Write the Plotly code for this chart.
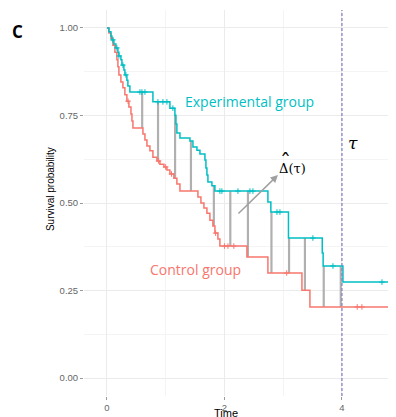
import numpy as np
import plotly.graph_objects as go

# ---- data ----
ctrl_time = [0, 0.034, 0.068, 0.102, 0.136, 0.170, 0.187, 0.204, 0.238, 0.272, 0.306, 0.340,
             0.374, 0.409, 0.426, 0.443, 0.613, 0.647, 0.681, 0.732, 0.783, 0.851, 0.902,
             0.970, 1.021, 1.072, 1.140, 1.191, 1.243, 1.549, 1.600, 1.651, 1.702, 1.753,
             1.804, 1.838, 1.889, 1.923, 2.383, 2.740, 3.319, 3.455, 4.92]
ctrl_surv = [1.0, 0.986, 0.971, 0.951, 0.931, 0.909, 0.889, 0.866, 0.846, 0.829, 0.809, 0.791,
             0.774, 0.754, 0.734, 0.714, 0.697, 0.680, 0.663, 0.649, 0.631, 0.620, 0.611,
             0.603, 0.594, 0.583, 0.571, 0.554, 0.534, 0.517, 0.500, 0.486, 0.471, 0.451,
             0.434, 0.414, 0.397, 0.377, 0.346, 0.300, 0.251, 0.203, 0.203]

exp_time = [0, 0.034, 0.068, 0.085, 0.119, 0.153, 0.187, 0.204, 0.238, 0.255, 0.289, 0.306,
            0.340, 0.357, 0.391, 0.783, 1.072, 1.157, 1.174, 1.191, 1.243, 1.413, 1.464,
            1.532, 1.583, 1.668, 1.685, 1.702, 1.719, 1.787, 1.838, 2.740, 2.790, 3.090,
            3.665, 3.680, 4.017, 4.92]
exp_surv = [1.0, 0.989, 0.977, 0.966, 0.954, 0.943, 0.931, 0.920, 0.909, 0.894, 0.880, 0.866,
            0.851, 0.834, 0.817, 0.789, 0.771, 0.751, 0.726, 0.700, 0.686, 0.677, 0.660,
            0.651, 0.640, 0.623, 0.600, 0.580, 0.560, 0.549, 0.534, 0.503, 0.474, 0.400,
            0.357, 0.320, 0.274, 0.274]

exp_censor = [0.102, 0.170, 0.204, 0.272, 0.323, 0.562, 0.596, 0.647, 0.868, 0.953, 1.021,
              1.123, 1.923, 1.957, 2.230, 2.434, 2.485, 2.894, 2.945, 3.506, 3.847, 4.681, 4.868]
ctrl_censor = [0.36, 0.88, 1.0, 1.1, 1.85, 2.0, 2.06, 2.16, 3.06, 4.26, 4.34]

diff_times = [0.60, 0.87, 1.16, 1.43, 1.82, 2.10, 2.40, 2.80, 3.10, 3.37, 3.69, 3.98]
tau = 4

x_ticks = [0, 2, 4]
y_ticks = [0.0, 0.25, 0.5, 0.75, 1.0]
y_tick_text = ["0.00", "0.25", "0.50", "0.75", "1.00"]

TEAL = "#00BFC4"
RED = "#F8766D"


def step_at(times, surv, t):
    idx = np.searchsorted(np.asarray(times), t, side="right") - 1
    return np.asarray(surv)[idx]


fig = go.Figure()

# difference segments
for t in diff_times:
    fig.add_trace(go.Scatter(
        x=[t, t], y=[step_at(ctrl_time, ctrl_surv, t), step_at(exp_time, exp_surv, t)],
        mode="lines", line=dict(color="#B0B0B0", width=2.2), showlegend=False, hoverinfo="skip"))

fig.add_trace(go.Scatter(x=ctrl_time, y=ctrl_surv, mode="lines", line_shape="hv",
                         line=dict(color=RED, width=1.5), showlegend=False))
fig.add_trace(go.Scatter(x=exp_time, y=exp_surv, mode="lines", line_shape="hv",
                         line=dict(color=TEAL, width=1.5), showlegend=False))

fig.add_trace(go.Scatter(x=ctrl_censor, y=[step_at(ctrl_time, ctrl_surv, t) for t in ctrl_censor],
                         mode="markers", marker=dict(symbol="cross-thin", size=4,
                                                     line=dict(color=RED, width=1)),
                         showlegend=False))
fig.add_trace(go.Scatter(x=exp_censor, y=[step_at(exp_time, exp_surv, t) for t in exp_censor],
                         mode="markers", marker=dict(symbol="cross-thin", size=4,
                                                     line=dict(color=TEAL, width=1)),
                         showlegend=False))

fig.add_shape(type="line", x0=tau, x1=tau, xref="x", y0=0, y1=1, yref="paper",
              line=dict(color="#8585C8", width=1.3, dash="3px,2px"))

ann = [
    dict(x=2.434, y=0.789, xref="x", yref="y", text="Experimental group", showarrow=False,
         font=dict(family="Open Sans", size=14, color=TEAL)),
    dict(x=1.50, y=0.309, xref="x", yref="y", text="Control group", showarrow=False,
         font=dict(family="Open Sans", size=14, color=RED)),
    dict(x=2.911, y=0.580, ax=2.213, ay=0.466, xref="x", yref="y", axref="x", ayref="y",
         text="", showarrow=True, arrowhead=2, arrowsize=1, arrowwidth=1.5, arrowcolor="#A0A0A0"),
    dict(x=3.166, y=0.600, xref="x", yref="y", text="\u0394(\u03c4)", showarrow=False,
         font=dict(family="DejaVu Serif", size=13, color="black")),
    dict(x=3.035, y=0.617, xref="x", yref="y", text="\u02c6", showarrow=False,
         font=dict(family="DejaVu Serif", size=22, color="black")),
    dict(x=4.19, y=0.672, xref="x", yref="y", text="<i>\u03c4</i>", showarrow=False,
         font=dict(family="DejaVu Serif", size=17, color="black")),
    dict(x=-0.109, y=0.536, xref="paper", yref="paper", text="Survival probability",
         xanchor="center", yanchor="middle",
         textangle=-90, showarrow=False, font=dict(family="Liberation Sans", size=10, color="black")),
    dict(x=0.455, y=-0.044, xref="paper", yref="paper", text="Time", showarrow=False,
         xanchor="center", yanchor="middle",
         font=dict(family="Liberation Sans", size=11, color="black")),
    dict(x=-0.213, y=0.944, xref="paper", yref="paper", text="<b>C</b>", showarrow=False,
         xanchor="center", yanchor="middle",
         font=dict(family="Open Sans", size=17, color="black")),
]

fig.update_layout(
    width=388, height=409,
    margin=dict(l=76, r=0, t=2, b=21),
    paper_bgcolor="white", plot_bgcolor="white",
    annotations=ann,
    showlegend=False,
)
fig.update_xaxes(range=[-0.39, 4.92], tickvals=x_ticks, ticktext=[str(v) for v in x_ticks],
                 showgrid=True, gridcolor="#EBEBEB", gridwidth=1, zeroline=False,
                 ticks="outside", ticklen=3, tickcolor="#9A9A9A",
                 tickfont=dict(family="Liberation Sans", size=9.5, color="#666666"),
                 minor=dict(tickvals=[1, 3], showgrid=True, gridcolor="#F4F4F4", gridwidth=0.6),
                 showline=False)
fig.update_yaxes(range=[-0.0514, 1.0514], tickvals=y_ticks, ticktext=y_tick_text,
                 showgrid=True, gridcolor="#EBEBEB", gridwidth=1, zeroline=False,
                 ticks="outside", ticklen=3, tickcolor="#9A9A9A",
                 tickfont=dict(family="Liberation Sans", size=9.5, color="#666666"),
                 minor=dict(tickvals=[0.125, 0.375, 0.625, 0.875], showgrid=True,
                            gridcolor="#F4F4F4", gridwidth=0.6),
                 showline=False)

fig.write_html("out.html")
